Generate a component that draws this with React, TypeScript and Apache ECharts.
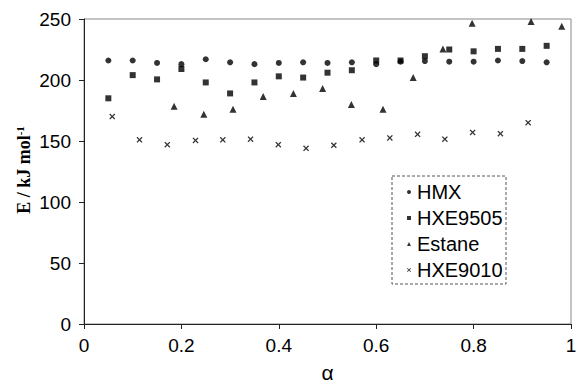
import React, { useEffect, useRef } from "react";
import * as echarts from "echarts";

const hmxAlpha = [0.05, 0.1, 0.15, 0.2, 0.25, 0.3, 0.35, 0.4, 0.45, 0.5, 0.55, 0.6, 0.65, 0.7, 0.75, 0.8, 0.85, 0.9, 0.95];
const hmxE = [216, 216, 214, 213, 217, 214.5, 213, 214, 214.5, 214, 214.5, 213, 215, 215.5, 215, 215, 216, 215.5, 214.5];

const hxe9505Alpha = [0.05, 0.1, 0.15, 0.2, 0.25, 0.3, 0.35, 0.4, 0.45, 0.5, 0.55, 0.6, 0.65, 0.7, 0.75, 0.8, 0.85, 0.9, 0.95];
const hxe9505E = [185, 204, 200.5, 209, 198, 189, 198, 203, 202, 206, 208, 216, 216, 219.5, 225, 223.5, 225.5, 225.5, 228];

const estaneAlpha = [0.185, 0.246, 0.306, 0.368, 0.43, 0.49, 0.549, 0.614, 0.676, 0.737, 0.797, 0.918, 0.981];
const estaneE = [178.5, 172, 176, 186.5, 189, 193, 180, 176, 202, 225.5, 246.5, 248, 244];

const hxe9010Alpha = [0.058, 0.114, 0.171, 0.229, 0.285, 0.342, 0.399, 0.456, 0.513, 0.571, 0.628, 0.685, 0.741, 0.798, 0.855, 0.912];
const hxe9010E = [170, 151, 147, 150.5, 151, 151.5, 147, 144, 146.5, 151, 152.5, 155.5, 151.5, 157, 156, 165];

const xTicks = [0, 0.2, 0.4, 0.6, 0.8, 1];
const yTicks = [0, 50, 100, 150, 200, 250];

const crossPath =
  "path://M0,1.5L1.5,0L5,3.5L8.5,0L10,1.5L6.5,5L10,8.5L8.5,10L5,6.5L1.5,10L0,8.5L3.5,5Z";

const zip = (xs: number[], ys: number[]) => xs.map((x, i) => [x, ys[i]]);

export default function App() {
  const ref = useRef<HTMLDivElement>(null);
  useEffect(() => {
    if (!ref.current) return;
    const chart = echarts.init(ref.current, null, { renderer: "svg" });
    const sans = "'Liberation Sans', Arial, sans-serif";
    chart.setOption({
      animation: false,
      backgroundColor: "#ffffff",
      grid: {
        left: 84,
        right: 5,
        top: 19,
        bottom: 59,
        containLabel: false,
        outerBoundsMode: "none",
        show: true,
        borderColor: "#888",
        borderWidth: 1,
      },
      xAxis: {
        type: "value",
        min: xTicks[0],
        max: xTicks[xTicks.length - 1],
        interval: 0.2,
        name: "α",
        nameLocation: "middle",
        nameGap: 38,
        nameTextStyle: { fontSize: 21, lineHeight: 20, color: "#000", fontFamily: sans },
        axisLine: { show: true, onZero: false, lineStyle: { color: "#222", width: 1 } },
        axisTick: { show: true, inside: false, length: 5, lineStyle: { color: "#222" } },
        splitLine: { show: false },
        axisLabel: {
          fontSize: 19,
          color: "#000",
          fontFamily: sans,
          margin: 12,
          formatter: (v: number) => String(parseFloat(v.toFixed(1))),
        },
      },
      yAxis: {
        type: "value",
        min: yTicks[0],
        max: yTicks[yTicks.length - 1],
        interval: 50,
        axisLine: { show: true, onZero: false, lineStyle: { color: "#222", width: 1 } },
        axisTick: { show: true, inside: false, length: 5, lineStyle: { color: "#222" } },
        splitLine: { show: false },
        axisLabel: { fontSize: 19, color: "#000", fontFamily: sans, margin: 13 },
      },
      legend: {
        orient: "vertical",
        left: 407,
        top: 181,
        padding: 0,
        itemWidth: 4,
        itemHeight: 4,
        itemGap: 4,
        itemStyle: { borderWidth: 0 },
        textStyle: { fontSize: 20, color: "#000", fontFamily: sans, lineHeight: 22, padding: [0, 0, 0, 1] },
        data: [
          { name: "HMX", icon: "circle" },
          { name: "HXE9505", icon: "rect" },
          { name: "Estane", icon: "triangle" },
          { name: "HXE9010", icon: crossPath },
        ],
      },
      graphic: [
        {
          type: "rect",
          shape: { x: 392, y: 176, width: 114, height: 108 },
          style: { fill: "none", stroke: "#555", lineWidth: 1, lineDash: [3, 2] },
          z: 0,
        },
        {
          type: "text",
          x: 24,
          y: 170,
          rotation: Math.PI / 2,
          style: {
            text: "E / kJ mol{sup|-1}",
            fontSize: 18,
            fontWeight: "bold",
            fontFamily: "'Liberation Serif', 'Times New Roman', serif",
            fill: "#000",
            align: "center",
            verticalAlign: "middle",
            rich: {
              sup: {
                fontSize: 11,
                fontWeight: "bold",
                fontFamily: "'Liberation Serif', 'Times New Roman', serif",
                verticalAlign: "top",
                padding: [0, 0, 8, 0],
              },
            },
          },
        },
      ],
      series: [
        {
          name: "HMX",
          type: "scatter",
          symbol: "circle",
          symbolSize: 6,
          itemStyle: { color: "#000" },
          data: zip(hmxAlpha, hmxE),
        },
        {
          name: "HXE9505",
          type: "scatter",
          symbol: "rect",
          symbolSize: 6,
          itemStyle: { color: "#000" },
          data: zip(hxe9505Alpha, hxe9505E),
        },
        {
          name: "Estane",
          type: "scatter",
          symbol: "triangle",
          symbolSize: 7,
          itemStyle: { color: "#000" },
          data: zip(estaneAlpha, estaneE),
        },
        {
          name: "HXE9010",
          type: "scatter",
          symbol: crossPath,
          symbolSize: 6,
          itemStyle: { color: "#000" },
          data: zip(hxe9010Alpha, hxe9010E),
        },
      ],
    });
    return () => chart.dispose();
  }, []);
  return <div ref={ref} style={{ width: 576, height: 383, position: "absolute", left: 0, top: 0 }} />;
}
